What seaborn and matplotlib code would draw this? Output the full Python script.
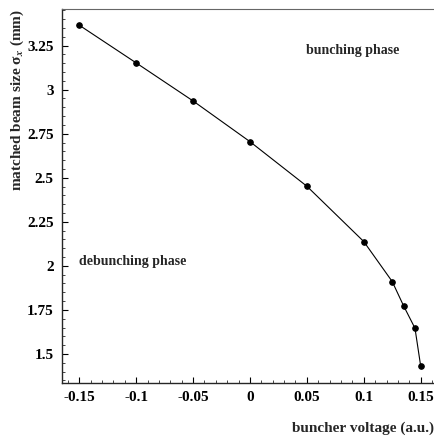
import matplotlib
matplotlib.use("Agg")
import matplotlib.pyplot as plt
from matplotlib.ticker import MultipleLocator
import seaborn as sns
import pandas as pd

# Matched beam size versus buncher voltage
voltage = [-0.15, -0.10, -0.05, 0.0, 0.05, 0.10, 0.125, 0.135, 0.145, 0.15]
beam_size = [3.366, 3.152, 2.936, 2.705, 2.452, 2.138, 1.911, 1.773, 1.646, 1.432]

x_ticks = [-0.15, -0.1, -0.05, 0, 0.05, 0.1, 0.15]
x_tick_labels = ["-0.15", "-0.1", "-0.05", "0", "0.05", "0.1", "0.15"]
y_ticks = [1.5, 1.75, 2.0, 2.25, 2.5, 2.75, 3.0, 3.25]
y_tick_labels = ["1.5", "1.75", "2", "2.25", "2.5", "2.75", "3", "3.25"]

df = pd.DataFrame({"voltage": voltage, "beam_size": beam_size})

sns.set_style("ticks")
plt.rcParams["font.family"] = ["Liberation Serif", "DejaVu Serif"]
plt.rcParams["font.weight"] = "bold"
plt.rcParams["mathtext.fontset"] = "stix"

fig = plt.figure(figsize=(4.35, 4.37), dpi=100)
ax = fig.add_axes([62 / 435, 1 - 383 / 437, 1 - 62 / 435, (383 - 9) / 437])

sns.lineplot(data=df, x="voltage", y="beam_size", ax=ax, color="black",
             linewidth=0.8, marker="o", markersize=4.0,
             markeredgecolor="black", markerfacecolor="black", sort=False)

ax.set_xlim(-0.1652, 0.1626)
ax.set_ylim(1.335, 3.458)

ax.set_xticks(x_ticks)
ax.set_xticklabels(x_tick_labels)
ax.set_yticks(y_ticks)
ax.set_yticklabels(y_tick_labels)
ax.xaxis.set_minor_locator(MultipleLocator(0.01))
ax.yaxis.set_minor_locator(MultipleLocator(0.05))

ax.tick_params(which="major", direction="in", length=4, width=0.8,
               labelsize=11, pad=6, colors="black")
ax.tick_params(which="minor", direction="in", length=2, width=0.6)
for lbl in ax.get_xticklabels() + ax.get_yticklabels():
    lbl.set_fontweight("bold")

ax.set_xlabel("")
ax.set_ylabel("")

ax.spines["right"].set_visible(False)
ax.spines["top"].set_color("#666666")
ax.spines["top"].set_linewidth(0.8)
ax.spines["left"].set_linewidth(1.0)
ax.spines["bottom"].set_linewidth(1.0)

ax.text(0.0905, 3.225, "bunching phase", ha="center", va="center",
        fontsize=10, fontweight="bold")
ax.text(-0.15, 2.022, "debunching phase", ha="left", va="center",
        fontsize=10, fontweight="bold")

fig.text(17 / 435, 1 - 9 / 437, r"matched beam size σ$_{x}$ (mm)",
         rotation=90, ha="center", va="top", fontsize=11, fontweight="bold")
fig.text(434 / 435, 1 - 428 / 437, "buncher voltage (a.u.)",
         ha="right", va="center", fontsize=11, fontweight="bold")

fig.savefig("out.png", dpi=100)
